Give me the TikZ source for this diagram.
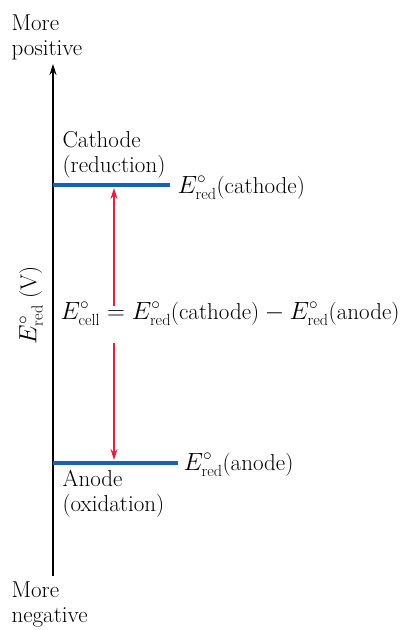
\documentclass[tikz,border=0pt]{standalone}
\usepackage{amsmath,amssymb}
\usepackage{xcolor}
\usepackage{tikz}
\usetikzlibrary{calc,arrows.meta}

\definecolor{levelblue}{RGB}{20,100,180}
\definecolor{gapred}{RGB}{230,30,70}

\begin{document}
\begin{tikzpicture}[x=1pt, y=-1pt, >={Stealth[length=11pt,width=7pt]}, line width=1.2pt,
    font=\fontsize{23}{25}\selectfont]
    \useasboundingbox (0,0) rectangle (409,630);
    % potential axis
    \coordinate (axbot) at (53,576);
    \coordinate (axtop) at (53,64);
    \draw[->] (axbot)--(axtop);
    \node[anchor=north west,inner sep=0,align=left] (pos) at (11,14){More\\positive};
    \node[anchor=north west,inner sep=0,align=left] (neg) at (11,581){More\\negative};
    \node[rotate=90,inner sep=0] (ylab) at (31,305){$E^\circ_{\text{red}}$ (V)};
    % electrode levels
    \draw[levelblue,line width=3.6pt] (53,185) coordinate (cathL)--(170,185) coordinate (cathR);
    \draw[levelblue,line width=3.6pt] (53,463) coordinate (anL)--(178,463) coordinate (anR);
    \node[anchor=north west,inner sep=0,align=left] (cath) at (62,131){Cathode\\(reduction)};
    \node[anchor=north west,inner sep=0,align=left] (an) at (62,470){Anode\\(oxidation)};
    \node[anchor=base west,inner sep=0] (ecath) at (177,193){$E^\circ_{\text{red}}$(cathode)};
    \node[anchor=base west,inner sep=0] (ean) at (183,470){$E^\circ_{\text{red}}$(anode)};
    % cell potential
    \node[anchor=base west,inner sep=0] (cell) at (60,319)
        {$E^\circ_{\text{cell}}=E^\circ_{\text{red}}$(cathode)${}-E^\circ_{\text{red}}$(anode)};
    \coordinate (cmid) at (114,188);
    \coordinate (amid) at (114,460);
    \coordinate (uptail) at (114,306);
    \coordinate (lowtail) at (114,343);
    \draw[->,gapred] (uptail)--(cmid);
    \draw[->,gapred] (lowtail)--(amid);
\end{tikzpicture}
\end{document}
